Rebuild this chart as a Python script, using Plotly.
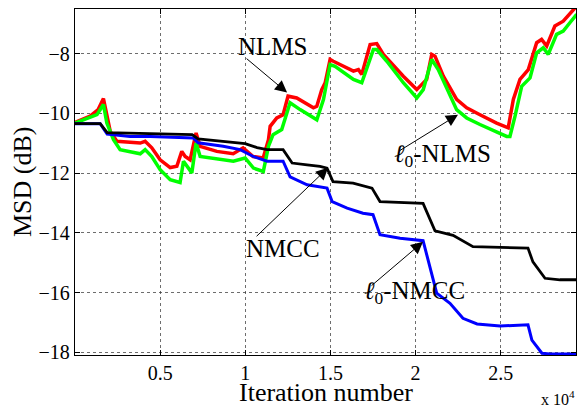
import plotly.graph_objects as go

# NLMS (red)
nlms_x = [0, 890, 1360, 1670, 2070, 2460, 3830, 4120, 4510, 5000, 5590, 5980, 6270, 6470, 6760, 7110, 7350, 8330, 9290, 9870,
          10460, 11050, 11360, 11460, 11850, 12220, 12510, 13020, 14000, 14200, 14490, 14690, 14980, 15170, 16350, 16640, 16840, 17130, 17330, 17720,
          18110, 19280, 20070, 20650, 20950, 21140, 21630, 22410, 23000, 23780, 24760, 25440, 25740, 26130, 26620, 27110, 27400, 27700, 28180, 28670,
          29060, 29460]
nlms_y = [-10.30, -10.09, -9.87, -9.50, -10.60, -10.93, -10.99, -10.93, -11.15, -11.55, -11.81, -11.77, -11.27, -11.44, -11.55, -10.65, -11.10, -11.27, -11.35, -11.15,
          -11.44, -11.49, -10.88, -10.43, -10.15, -10.04, -9.42, -9.48, -9.81, -9.76, -9.20, -8.97, -8.19, -8.25, -8.58, -8.53, -8.69, -8.13, -7.69, -7.66,
          -8.02, -8.75, -9.20, -8.86, -8.02, -8.08, -8.75, -9.53, -9.81, -10.04, -10.32, -10.48, -9.53, -8.86, -8.53, -7.63, -7.52, -7.74, -7.07, -6.91,
          -6.68, -6.40]

# l0-NLMS (green)
l0nlms_x = [0, 1290, 1670, 1870, 2260, 2650, 3830, 4120, 4510, 5000, 5590, 6170, 6370, 6570, 6860, 7110, 7350, 9300, 9990, 10480,
            11060, 11360, 11630, 12140, 12630, 13220, 14200, 14590, 14980, 15270, 16350, 16840, 17230, 17520, 17720, 18310, 19280, 20070, 20450, 20950,
            21330, 22410, 23000, 23780, 25350, 25540, 25840, 26230, 26720, 27110, 27500, 27790, 28280, 28670, 29060, 29460]
l0nlms_y = [-10.32, -10.04, -9.70, -10.32, -10.88, -11.21, -11.35, -11.21, -11.44, -11.88, -12.22, -12.31, -11.60, -11.77, -11.99, -10.99, -11.44, -11.60, -11.49, -11.83,
            -11.94, -11.10, -10.71, -10.54, -9.64, -9.87, -10.21, -9.53, -8.36, -8.42, -8.86, -8.97, -8.30, -7.86, -7.86, -8.25, -8.97, -9.48, -9.20, -8.19,
            -8.53, -9.87, -10.15, -10.37, -10.77, -10.77, -10.09, -9.09, -8.81, -7.97, -7.80, -8.02, -7.35, -7.24, -6.96, -6.68]

# NMCC (black)
nmcc_x = [0, 1480, 1890, 4820, 6880, 7230, 8520, 9990, 10690, 11280, 12220, 12750, 13630, 14390, 14800, 15150, 16330, 17440, 17910, 20440,
          21140, 22200, 23370, 26600, 26890, 27600, 28480, 29420]
nmcc_y = [-10.34, -10.34, -10.64, -10.68, -10.71, -10.85, -10.93, -11.01, -11.14, -11.21, -11.21, -11.66, -11.72, -11.77, -11.83, -12.28, -12.33, -12.50, -12.95, -13.01,
          -13.93, -14.08, -14.46, -14.51, -14.97, -15.52, -15.57, -15.57]

# l0-NMCC (blue)
l0nmcc_x = [0, 1480, 1890, 3240, 4410, 6940, 7230, 8700, 9700, 10460, 11280, 12220, 12630, 13630, 14800, 15100, 15980, 16910, 17500, 17910,
            19090, 20440, 21240, 22020, 22780, 23610, 24960, 26600, 26830, 27420, 27890, 29420]
l0nmcc_y = [-10.34, -10.34, -10.69, -10.77, -10.77, -10.82, -10.98, -11.10, -11.21, -11.44, -11.60, -11.60, -12.12, -12.39, -12.50, -12.95, -13.17, -13.34, -13.39, -14.06,
            -14.18, -14.26, -16.02, -16.36, -16.86, -17.05, -17.12, -17.08, -17.59, -18.03, -18.06, -18.06]

x_tickvals = [5000, 10000, 15000, 20000, 25000]
x_ticktext = ["0.5", "1", "1.5", "2", "2.5"]
y_tickvals = [-18, -16, -14, -12, -10, -8]

FONT = "Liberation Serif, Times New Roman, serif"

fig = go.Figure()
fig.add_trace(go.Scatter(x=nlms_x, y=nlms_y, mode="lines", line=dict(color="#ff0000", width=3.5), name="NLMS"))
fig.add_trace(go.Scatter(x=l0nlms_x, y=l0nlms_y, mode="lines", line=dict(color="#00ff00", width=3.5), name="l0-NLMS"))
fig.add_trace(go.Scatter(x=l0nmcc_x, y=l0nmcc_y, mode="lines", line=dict(color="#0000ff", width=3), name="l0-NMCC"))
fig.add_trace(go.Scatter(x=nmcc_x, y=nmcc_y, mode="lines", line=dict(color="#000000", width=2.8), name="NMCC"))

axis_common = dict(
    showline=True, linecolor="black", linewidth=1.3, mirror="allticks",
    ticks="inside", ticklen=5, tickcolor="black", tickwidth=1,
    showgrid=True, gridcolor="rgba(60,60,60,0.75)", gridwidth=1, griddash="dot",
    zeroline=False,
    tickfont=dict(family=FONT, size=20, color="black"),
)

fig.update_xaxes(range=[0, 29420], tickvals=x_tickvals, ticktext=x_ticktext, **axis_common)
fig.update_yaxes(range=[-18.09, -6.5], tickvals=y_tickvals, **axis_common)

annotations = []
# text labels
labels = [
    ("NLMS", 11574, -7.76),
    ("<i>ℓ</i><sub>0</sub>-NLMS", 21609, -11.41),
    ("NMCC", 12219, -14.53),
    ("<i>ℓ</i><sub>0</sub>-NMCC", 19908, -15.98),
]
for t, x, y in labels:
    annotations.append(dict(x=x, y=y, xref="x", yref="y", text=t, showarrow=False,
                            font=dict(family=FONT, size=25, color="black"),
                            xanchor="center", yanchor="middle"))
# arrows (tip, tail)
arrows = [
    ((12454, -9.30), (9989, -8.12)),
    ((22490, -10.04), (18965, -11.28)),
    ((14860, -11.82), (10576, -14.16)),
    ((20436, -14.30), (17325, -15.81)),
]
for (tx, ty), (ax, ay) in arrows:
    annotations.append(dict(x=tx, y=ty, xref="x", yref="y", ax=ax, ay=ay, axref="x", ayref="y",
                            text="", showarrow=True, arrowhead=2, arrowsize=2.4, arrowwidth=1,
                            arrowcolor="black", standoff=0, startstandoff=0))
# axis titles
annotations.append(dict(x=0.5, y=0, xref="paper", yref="paper", yshift=-21, text="Iteration number",
                        showarrow=False, xanchor="center", yanchor="top",
                        font=dict(family=FONT, size=26, color="black")))
annotations.append(dict(x=0, y=0.5, xref="paper", yref="paper", xshift=-53, text="MSD (dB)", textangle=-90,
                        showarrow=False, xanchor="center", yanchor="middle",
                        font=dict(family=FONT, size=26, color="black")))
annotations.append(dict(x=1, y=0, xref="paper", yref="paper", xshift=1, yshift=-55, text="x 10<sup>4</sup>",
                        showarrow=False, xanchor="right", yanchor="bottom",
                        font=dict(family=FONT, size=16, color="black")))

fig.update_layout(
    width=578, height=410,
    margin=dict(l=75, r=2, t=9, b=55),
    paper_bgcolor="white", plot_bgcolor="white",
    showlegend=False,
    annotations=annotations,
    font=dict(family=FONT, color="black"),
)

fig.write_html(
    "out.html",
    config={"displayModeBar": False},
    post_script="document.body.style.margin='0';document.body.style.padding='0';"
                "document.documentElement.style.overflow='hidden';",
)
